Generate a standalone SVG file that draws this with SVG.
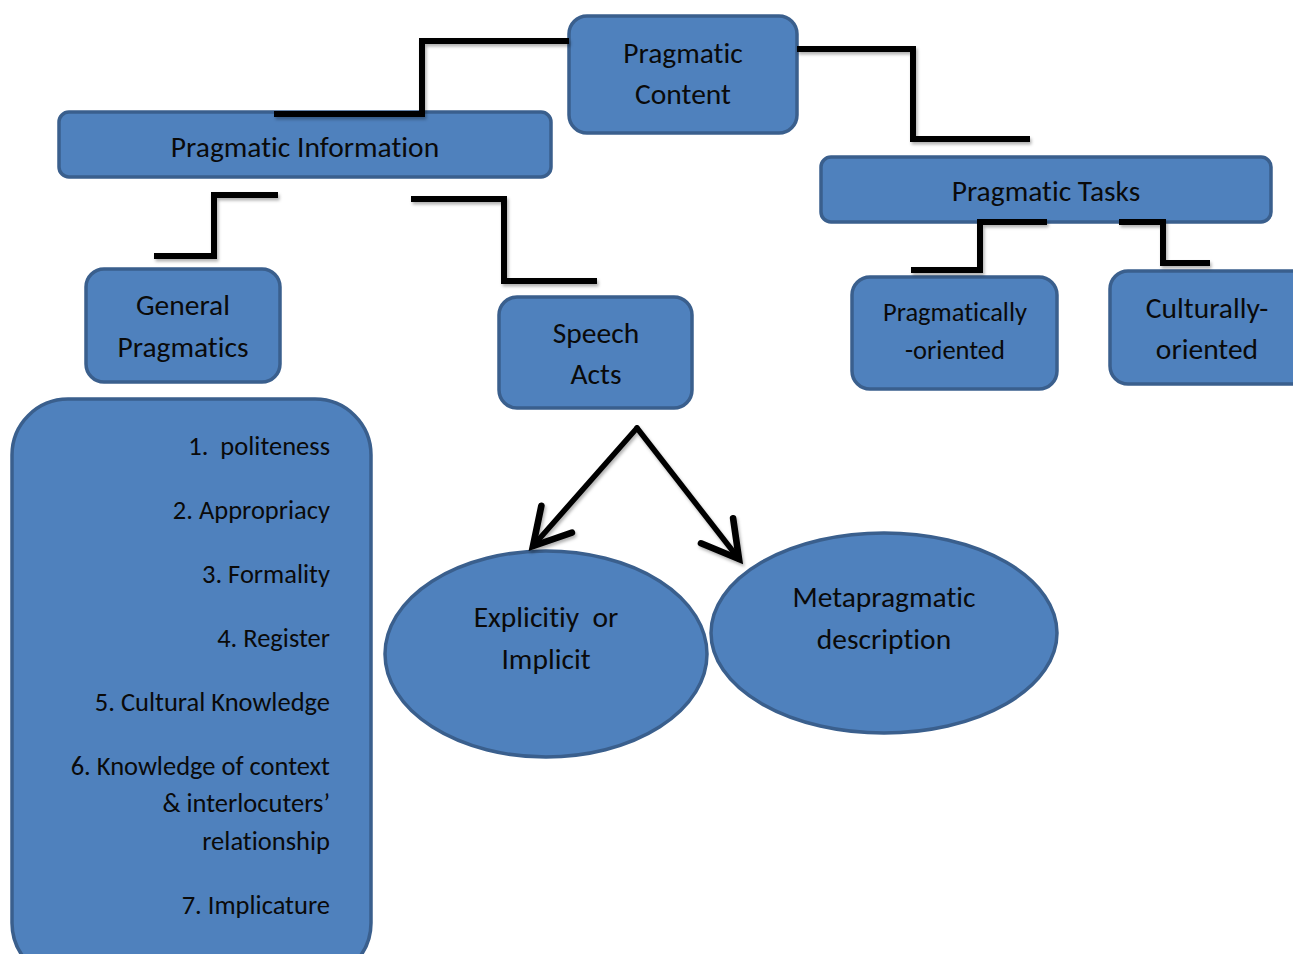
<svg xmlns="http://www.w3.org/2000/svg" width="1293" height="954" viewBox="0 0 1293 954">
<style>
.box{fill:#4F81BD;stroke:#3A5F8D;stroke-width:3.5}
.t{font-family:Carlito,Lato,"Liberation Sans",sans-serif;font-size:29.5px;fill:#0a0a0a;text-anchor:middle;font-variant-ligatures:none}
.s{font-size:26.5px}
.l{font-family:Carlito,Lato,"Liberation Sans",sans-serif;font-size:26.5px;fill:#0a0a0a;text-anchor:end;font-variant-ligatures:none}
.c{fill:none;stroke:#000;stroke-width:6;stroke-linejoin:miter}
.a{fill:none;stroke:#000;stroke-width:5.5;stroke-linecap:round}
</style>
<defs>
<marker id="arr" markerWidth="10" markerHeight="10" refX="8" refY="5" orient="auto" markerUnits="strokeWidth" viewBox="0 0 10 10">
<path d="M1.5,1.3 L8,5 L1.5,8.7" fill="none" stroke="#000" stroke-width="1.2" stroke-linecap="round" stroke-linejoin="miter"/>
</marker>
<filter id="sh" x="-10%" y="-10%" width="120%" height="130%">
<feDropShadow dx="1.5" dy="2.5" stdDeviation="1.5" flood-color="#000" flood-opacity="0.3"/>
</filter>
</defs>
<rect width="1293" height="954" fill="#fff"/>
<g id="pragmatic-content">
<rect class="box" x="569" y="16" width="228" height="117" rx="18"/>
<text class="t" x="683" y="63">Pragmatic</text>
<text class="t" x="683" y="104">Content</text>
</g>
<g id="pragmatic-information">
<rect class="box" x="59" y="112" width="492" height="65" rx="10"/>
<text class="t" x="305" y="157">Pragmatic Information</text>
</g>
<g id="pragmatic-tasks">
<rect class="box" x="821" y="157" width="450" height="65" rx="10"/>
<text class="t" x="1046" y="201">Pragmatic Tasks</text>
</g>
<g id="general-pragmatics">
<rect class="box" x="86" y="269" width="194" height="113" rx="18"/>
<text class="t" x="183" y="315">General</text>
<text class="t" x="183" y="357">Pragmatics</text>
</g>
<g id="speech-acts">
<rect class="box" x="499" y="297" width="193" height="111" rx="18"/>
<text class="t" x="596" y="343">Speech</text>
<text class="t" x="596" y="384">Acts</text>
</g>
<g id="pragmatically-oriented">
<rect class="box" x="852" y="277" width="205" height="112" rx="18"/>
<text class="t s" x="955" y="321">Pragmatically</text>
<text class="t s" x="955" y="359">-oriented</text>
</g>
<g id="culturally-oriented">
<rect class="box" x="1110" y="271" width="200" height="113" rx="18"/>
<text class="t" x="1207" y="318">Culturally-</text>
<text class="t" x="1207" y="359">oriented</text>
</g>
<g id="general-list">
<rect class="box" x="12" y="399" width="359" height="580" rx="56"/>
<text class="l" x="330" y="455" xml:space="preserve">1.  politeness</text>
<text class="l" x="330" y="519">2. Appropriacy</text>
<text class="l" x="330" y="583">3. Formality</text>
<text class="l" x="330" y="647">4. Register</text>
<text class="l" x="330" y="711">5. Cultural Knowledge</text>
<text class="l" x="330" y="775">6. Knowledge of context</text>
<text class="l" x="330" y="812">&amp; interlocuters’</text>
<text class="l" x="330" y="850">relationship</text>
<text class="l" x="330" y="914">7. Implicature</text>
</g>
<g id="explicitness">
<ellipse class="box" cx="546" cy="654" rx="161" ry="103"/>
<text class="t" x="546" y="627" xml:space="preserve">Explicitiy  or</text>
<text class="t" x="546" y="669">Implicit</text>
</g>
<g id="metapragmatic">
<ellipse class="box" cx="884" cy="633" rx="173" ry="100"/>
<text class="t" x="884" y="607">Metapragmatic</text>
<text class="t" x="884" y="649">description</text>
</g>
<g id="connectors" filter="url(#sh)">
<polyline class="c" points="569,41 422,41 422,114 274,114"/>
<polyline class="c" points="797,49 913,49 913,139 1030,139"/>
<polyline class="c" points="278,195 214,195 214,256 154,256"/>
<polyline class="c" points="411,199 504,199 504,281 597,281"/>
<polyline class="c" points="1047,222 980,222 980,270 911,270"/>
<polyline class="c" points="1119,222 1163,222 1163,263 1210,263"/>
<line class="a" x1="637" y1="428" x2="533" y2="546" marker-end="url(#arr)"/>
<line class="a" x1="637" y1="428" x2="739" y2="559" marker-end="url(#arr)"/>
</g>
</svg>
